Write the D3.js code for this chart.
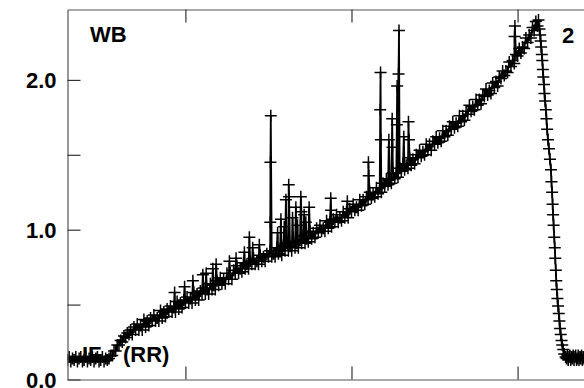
<!DOCTYPE html>
<html><head><meta charset="utf-8">
<script src="https://cdn.jsdelivr.net/npm/d3@7"></script>
<style>html,body{margin:0;padding:0;background:#fff;overflow:hidden}svg{display:block}</style>
</head><body><svg id="c" width="584" height="388"></svg>
<script>
// ---- data ----
const yTicks = [0, 0.5, 1.0, 1.5, 2.0];
const yTickLabels = ["0.0", "", "1.0", "", "2.0"];
const xTicks = [100, 200, 300];

// main trace: sample positions
const sampleX = [
  29,30,31,32,33,34,35,36,37,38,39,40,41,42,43,44,45,46,47,48,49,50,51,52,53,54,
  55,56,57,58,59,60,61,62,63,64,65,66,67,68,69,70,71,72,73,74,75,76,77,78,79,80,
  81,82,83,84,85,86,87,88,89,90,91,92,93,94,95,96,97,98,99,100,101,102,103,104,
  105,106,107,108,109,110,111,112,113,114,115,116,117,118,119,120,121,122,123,124,
  125,126,127,128,129,130,131,132,133,134,135,136,137,138,139,140,141,142,143,144,
  145,146,147,148,149,150,151,152,153,154,155,156,157,158,159,160,161,162,163,164,
  165,166,167,168,169,170,171,172,173,174,175,176,177,178,179,180,181,182,183,184,
  185,186,187,188,189,190,191,192,193,194,195,196,197,198,199,200,201,202,203,204,
  205,206,207,208,209,210,211,212,213,214,215,216,217,218,219,220,221,222,223,224,
  225,226,227,228,229,230,231,232,233,234,235,236,237,238,239,240,241,242,243,244,
  245,246,247,248,249,250,251,252,253,254,255,256,257,258,259,260,261,262,263,264,
  265,266,267,268,269,270,271,272,273,274,275,276,277,278,279,280,281,282,283,284,
  285,286,287,288,289,290,291,292,293,294,295,296,297,298,299,300,301,302,303,304,
  305,306,307,308,309,310,311,312,312.6,
  313.2,313.6,313.9,314.2,314.6,314.9,315.2,315.5,315.9,316.2,316.6,317.0,317.4,317.8,
  318.3,318.9,319.5,320.1,320.4,320.8,321.1,321.4,321.7,322.1,322.4,322.7,323.0,323.3,
  323.6,324.0,324.4,324.8,325.2,325.6,326.0,326.5,326.9,327.5,328.1,328.9,
  329.5,330,330.5,331,331.5,332,332.5,333,333.5,334,334.5,335,335.5,336,336.5,337,
  337.5,338,338.5,339,339.5,340,340.5
];
// main trace: signal
const signal = [
  0.13,0.15,0.12,0.14,0.13,0.15,0.12,0.14,0.15,0.12,0.13,0.15,0.12,0.14,0.13,0.15,0.12,0.14,0.15,0.12,0.13,0.15,0.12,0.14,0.13,0.14,
  0.16,0.16,0.19,0.19,0.23,0.23,0.26,0.25,0.29,0.28,0.31,0.30,0.33,0.30,0.35,0.33,0.37,0.33,0.36,0.33,0.40,0.35,0.39,0.36,0.41,0.39,
  0.43,0.39,0.41,0.39,0.46,0.41,0.45,0.42,0.47,0.45,0.49,0.45,0.48,0.45,0.52,0.47,0.51,0.48,0.53,0.51,0.55,0.51,0.54,0.51,
  0.58,0.53,0.57,0.53,0.59,0.57,0.61,0.57,0.60,0.57,0.64,0.60,0.63,0.60,0.66,0.63,0.68,0.64,0.67,0.64,
  0.71,0.67,0.71,0.67,0.73,0.71,0.76,0.71,0.74,0.72,0.78,0.74,0.77,0.74,0.79,0.77,0.81,0.77,0.79,0.77,
  0.83,0.79,0.82,0.79,0.84,0.82,0.86,0.82,0.84,0.82,0.88,0.84,0.87,0.83,0.89,0.86,0.91,0.86,0.89,0.86,
  0.92,0.88,0.91,0.88,0.93,0.91,0.96,0.91,0.94,0.92,0.99,0.94,0.98,0.95,1.01,0.98,1.03,0.99,1.01,0.99,
  1.06,1.01,1.05,1.02,1.07,1.05,1.10,1.05,1.08,1.06,1.12,1.08,1.12,1.08,1.14,1.12,1.17,1.13,1.15,1.13,
  1.20,1.16,1.20,1.17,1.22,1.20,1.25,1.21,1.24,1.22,1.28,1.24,1.28,1.25,1.31,1.29,1.34,1.30,1.33,1.31,
  1.38,1.34,1.38,1.35,1.41,1.39,1.44,1.40,1.43,1.41,1.48,1.43,1.47,1.44,1.50,1.48,1.53,1.49,1.52,1.50,
  1.57,1.53,1.57,1.53,1.59,1.57,1.62,1.58,1.61,1.59,1.66,1.62,1.66,1.63,1.69,1.67,1.72,1.68,1.71,1.69,
  1.76,1.72,1.76,1.73,1.79,1.77,1.83,1.79,1.82,1.80,1.87,1.83,1.87,1.84,1.90,1.89,1.94,1.90,1.93,1.91,
  1.98,1.95,1.99,1.96,2.02,2.01,2.06,2.03,2.06,2.05,2.12,2.09,2.13,2.11,2.17,2.16,2.21,2.18,2.22,2.21,
  2.28,2.25,2.30,2.28,2.35,2.33,2.39,2.36,2.40,
  2.34,2.30,2.26,2.22,2.17,2.13,2.07,2.02,1.97,1.91,1.86,1.80,1.74,1.67,
  1.60,1.54,1.47,1.40,1.32,1.25,1.17,1.10,1.03,0.95,0.88,0.81,0.73,0.66,
  0.60,0.54,0.49,0.44,0.39,0.34,0.30,0.26,0.23,0.20,0.17,0.15,
  0.14,0.16,0.13,0.15,0.16,0.13,0.15,0.14,0.16,0.13,0.15,0.16,0.13,0.14,0.16,0.13,
  0.15,0.14,0.16,0.13,0.15,0.14,0.15
];

// isolated excursions above the trace
const spikeX = [93.5,99.5,104.5,110.5,112.5,116.5,118.5,126.5,130.5,135.5,138.5,140.5,144.5,
  151.1,151.2,151.4,155.5,157.5,159.5,160.5,162.2,162.4,164.5,166.5,167.5,169.5,169.8,171.5,172.5,174.5,
  187.5,187.7,197.5,210.2,210.4,217.3,217.5,217.7,222.5,224.5,224.7,227.3,227.5,228.3,228.6,231.5,234.3,234.6,
  298.2,298.4];
const spikeY = [0.58,0.62,0.66,0.70,0.71,0.74,0.77,0.79,0.81,0.85,0.95,0.88,0.90,
  1.05,1.45,1.76,0.98,1.07,1.02,1.20,1.30,1.22,1.08,1.15,1.03,1.22,1.12,1.10,1.05,1.15,
  1.21,1.13,1.19,1.45,1.36,1.80,2.05,1.60,1.60,1.74,1.55,1.70,1.96,2.04,2.33,1.62,1.72,1.60,
  2.29,2.36];

const panelLabels = ["WB", "2", "IF", "(RR)"];

// ---- chart ----
const svg = d3.select("#c");
const x = d3.scaleLinear().domain([29, 340]).range([67.5, 584]);
const y = d3.scaleLinear().domain([0, 2.47]).range([379.5, 9.5]);

const pts = sampleX.map((v, i) => ({x: v, y: signal[i]}))
  .concat(spikeX.map((v, i) => ({x: v, y: spikeY[i]})))
  .sort((a, b) => a.x - b.x);

const font = "'Liberation Sans', Arial, Helvetica, sans-serif";
const axisColor = "#555";

svg.append("defs").append("clipPath").attr("id", "plot")
  .append("rect").attr("x", 67.5).attr("y", 0).attr("width", 520).attr("height", 380);

// panel labels
const lab = svg.append("g").attr("font-family", font).attr("font-weight", "bold")
  .attr("font-size", 22).attr("fill", "#000");
lab.append("text").attr("x", 90).attr("y", 42).text(panelLabels[0]);
lab.append("text").attr("x", 562).attr("y", 43).text(panelLabels[1]);
lab.append("text").attr("x", 82).attr("y", 362).text(panelLabels[2]);
lab.append("text").attr("x", 123).attr("y", 362).text(panelLabels[3]);

const plot = svg.append("g").attr("clip-path", "url(#plot)");
// trace
plot.append("path").datum(pts)
  .attr("fill", "none").attr("stroke", "#000").attr("stroke-width", 1.8)
  .attr("stroke-linejoin", "round")
  .attr("d", d3.line().x(d => x(d.x)).y(d => y(d.y)));

// plus markers
const s = 6;
plot.append("path")
  .attr("fill", "none").attr("stroke", "#000").attr("stroke-width", 1.5)
  .attr("d", pts.map(d => {
    const px = x(d.x), py = y(d.y);
    return `M${px - s},${py}H${px + s}M${px},${py - s}V${py + s}`;
  }).join(""));

// axes
const gL = svg.append("g").attr("transform", "translate(67.5,0)")
  .call(d3.axisLeft(y).tickValues(yTicks).tickSizeInner(-13).tickSizeOuter(0)
    .tickPadding(11).tickFormat((d, i) => yTickLabels[i]));
const gB = svg.append("g").attr("transform", "translate(0,379.5)")
  .call(d3.axisBottom(x).tickValues(xTicks).tickSizeInner(-13).tickSizeOuter(0).tickFormat(""));
const gT = svg.append("g").attr("transform", "translate(0,9.5)")
  .call(d3.axisTop(x).tickValues(xTicks).tickSizeInner(-13).tickSizeOuter(0).tickFormat(""));
[gL, gB, gT].forEach(g => {
  g.select(".domain").attr("stroke", axisColor).attr("stroke-width", 1.2);
  g.selectAll(".tick line").attr("stroke", "#333").attr("stroke-width", 1.2);
  g.selectAll(".tick text").attr("fill", "#000").attr("font-family", font)
    .attr("font-weight", "bold").attr("font-size", 22).attr("dy", "0.36em");
});
</script>
</body></html>
